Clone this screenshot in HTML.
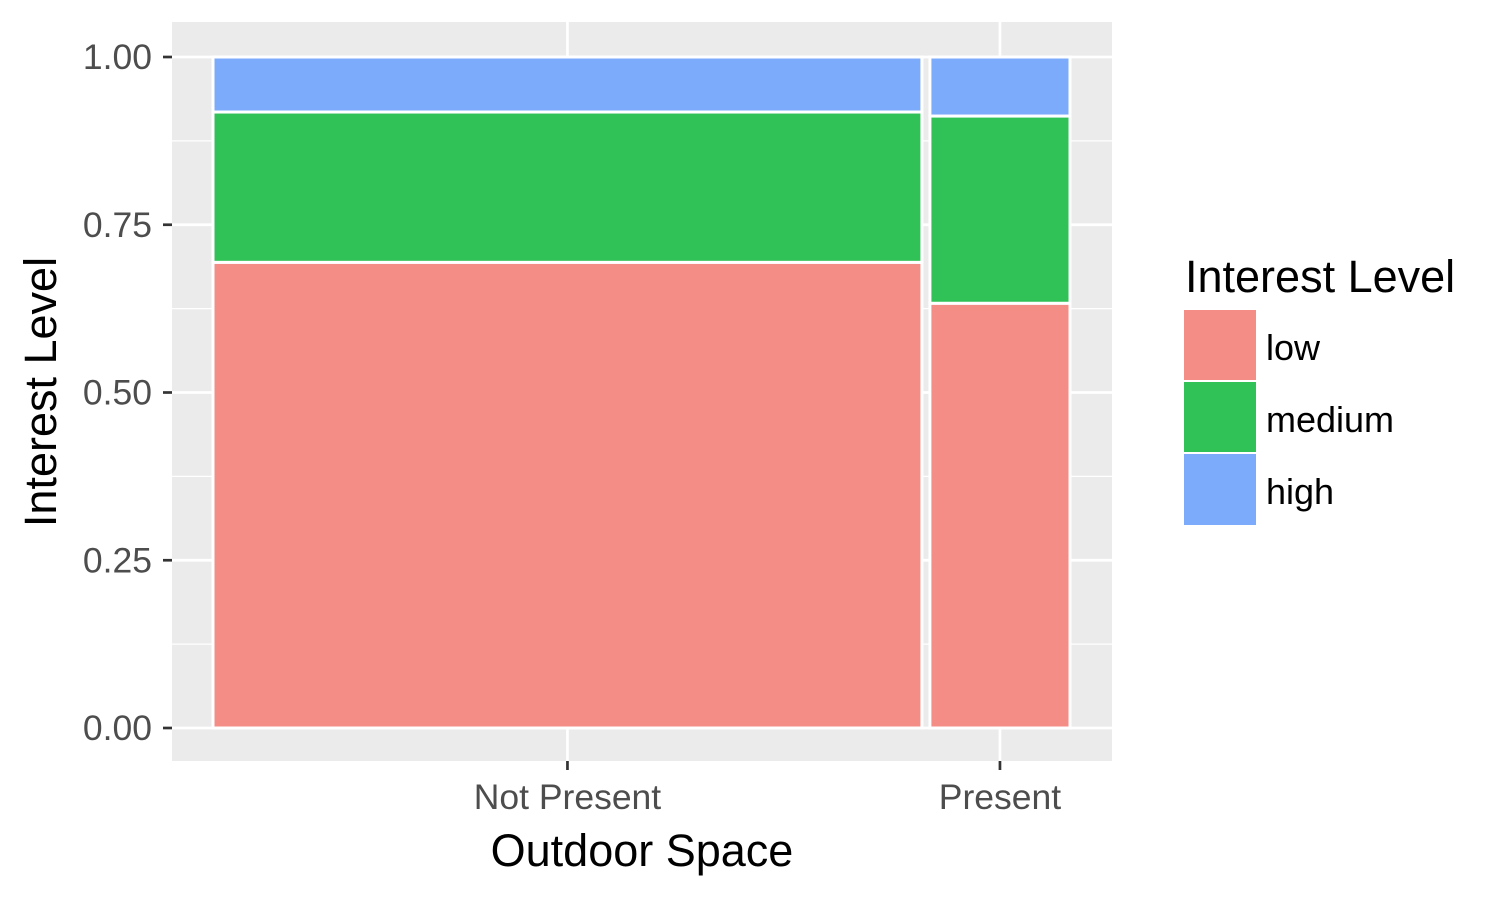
<!DOCTYPE html>
<html><head><meta charset="utf-8"><style>
body{margin:0;background:#fff;}
svg text{font-family:"Liberation Sans",Arial,sans-serif;}
</style></head><body>
<svg id="chart" width="1500" height="900" xmlns="http://www.w3.org/2000/svg">
<rect x="172" y="22" width="940" height="739" fill="#ebebeb"/>
<g id="grid"></g>
<g id="bars"></g>
<g id="axes"></g>
<text x="642" y="866" font-size="45" text-anchor="middle" fill="#000">Outdoor Space</text>
<text transform="translate(56,392) rotate(-90)" font-size="45" text-anchor="middle" fill="#000">Interest Level</text>
<g>
<text x="1185" y="292" font-size="45" fill="#000">Interest Level</text>
<rect x="1184" y="310" width="72" height="70" fill="#f48d86"/>
<rect x="1184" y="382" width="72" height="70" fill="#31c257"/>
<rect x="1184" y="454" width="72" height="71" fill="#7dabfc"/>
<text x="1266" y="360" font-size="36">low</text>
<text x="1266" y="432" font-size="36">medium</text>
<text x="1266" y="504" font-size="36">high</text>
</g>
</svg>
<script>
const categories = ["Not Present", "Present"];
const shares = [0.835, 0.165];
const lowVals = [0.694, 0.633];
const mediumVals = [0.224, 0.279];
const highVals = [0.082, 0.088];
const yTicks = [0, 0.25, 0.5, 0.75, 1];
const yTickLabels = ["0.00", "0.25", "0.50", "0.75", "1.00"];

const NS = "http://www.w3.org/2000/svg";
const y0 = 728, yH = 671;
function yScale(v){ return y0 - v * yH; }
const xStart = 213, xEnd = 1070, gap = 8;
const usable = (xEnd - xStart) - gap * (categories.length - 1);
function mk(tag, attrs, parent){ const e = document.createElementNS(NS, tag); for (const k in attrs) e.setAttribute(k, attrs[k]); parent.appendChild(e); return e; }

const grid = document.getElementById("grid");
const bars = document.getElementById("bars");
const axes = document.getElementById("axes");

for (let i = 0; i < yTicks.length - 1; i++) {
  const y = yScale((yTicks[i] + yTicks[i + 1]) / 2);
  const l = mk("line", {x1:172, x2:1112, y1:y, y2:y, stroke:"#fff", "stroke-width":1.3}, grid);
  
  
}
yTicks.forEach((t, i) => {
  const y = yScale(t);
  const l = mk("line", {x1:172, x2:1112, y1:y, y2:y, stroke:"#fff", "stroke-width":2.7}, grid);
  
  
  const tk = mk("line", {x1:163, x2:172, y1:y, y2:y, stroke:"#333", "stroke-width":2.7}, axes);
  
  
  const tx = mk("text", {x:152, y:y + 12, "font-size":35.5, "text-anchor":"end", fill:"#4d4d4d"}, axes);
  tx.textContent = yTickLabels[i];
  
  
});

let x = xStart;
categories.forEach((c, i) => {
  const w = shares[i] * usable;
  const cx = x + w / 2;
  const gl = mk("line", {x1:cx, x2:cx, y1:22, y2:761, stroke:"#fff", "stroke-width":2.7}, grid);
  
  
  const tk = mk("line", {x1:cx, x2:cx, y1:761, y2:770, stroke:"#333", "stroke-width":2.7}, axes);
  
  
  const tx = mk("text", {x:cx, y:809, "font-size":35.5, "text-anchor":"middle", fill:"#4d4d4d"}, axes);
  tx.textContent = c;
  
  
  const segs = [[lowVals[i], "#f48d86", "low"], [mediumVals[i], "#31c257", "medium"], [highVals[i], "#7dabfc", "high"]];
  let cum = 0;
  segs.forEach(s => {
    const top = yScale(cum + s[0]), bot = yScale(cum);
    const r = mk("rect", {x:x, y:top, width:w, height:bot - top, fill:s[1], stroke:"#fff", "stroke-width":3}, bars);
    
    
    cum += s[0];
  });
  x += w + gap;
});
</script>
</body></html>
